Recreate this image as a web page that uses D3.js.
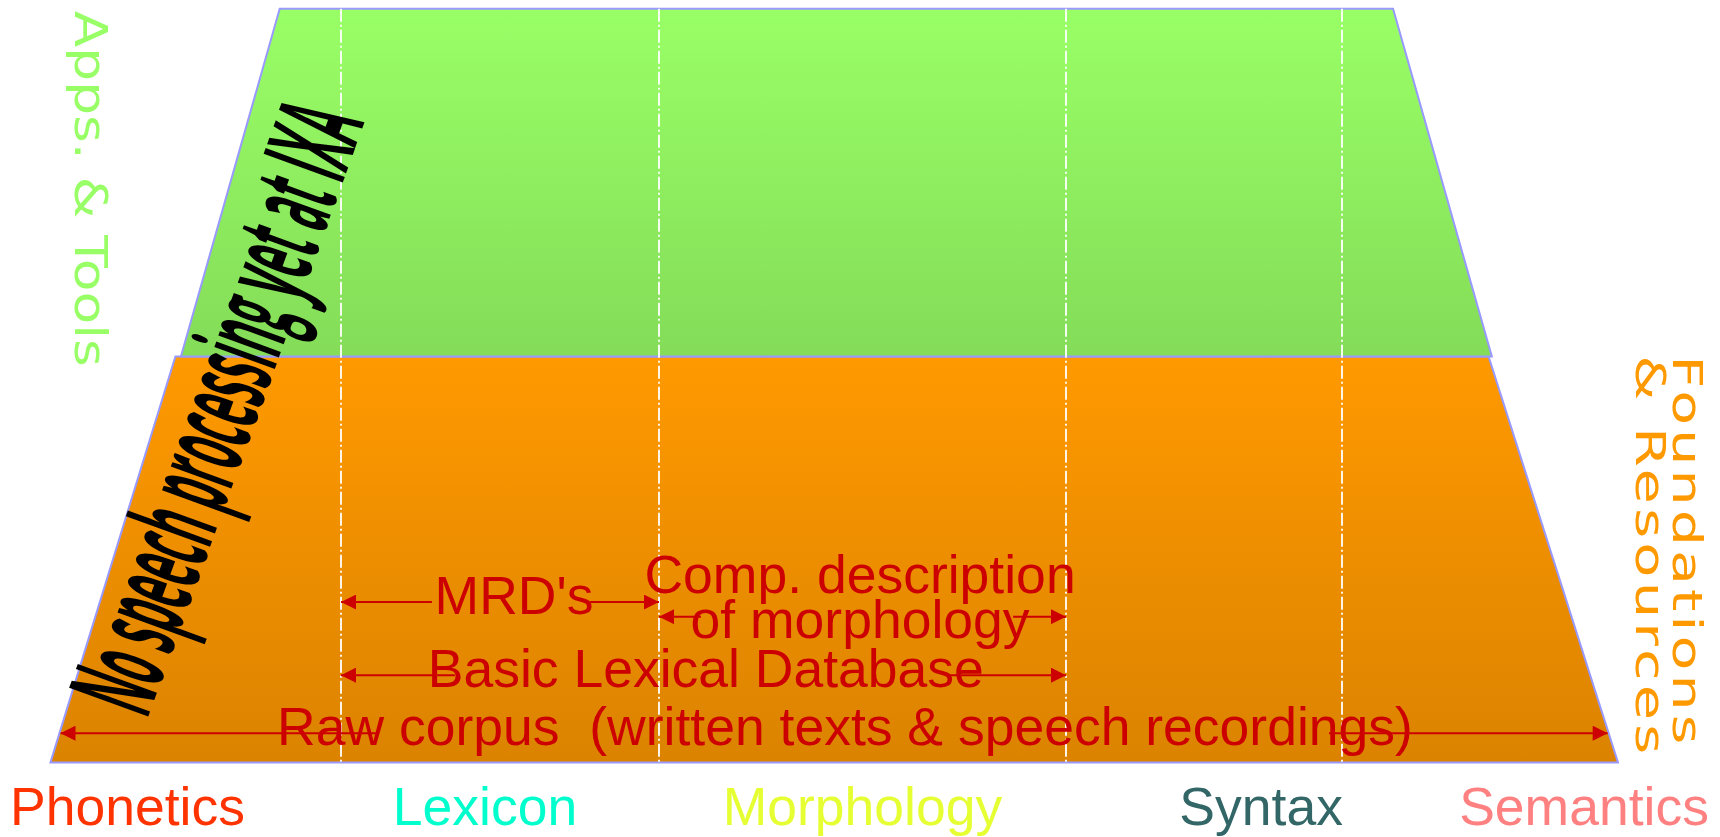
<!DOCTYPE html>
<html>
<head>
<meta charset="utf-8">
<script src="https://cdn.jsdelivr.net/npm/d3@7"></script>
<style>
  html, body { margin: 0; padding: 0; background: #ffffff; overflow: hidden; }
  svg { display: block; }
  text { white-space: pre; }
</style>
</head>
<body>
<svg id="chart" width="1720" height="837"></svg>
<script>
// ---------- data ----------
const categories = ["Phonetics", "Lexicon", "Morphology", "Syntax", "Semantics"];
const categoryColors = ["#ff3300", "#00ffcc", "#e5ff33", "#336666", "#ff8080"];
const categoryLabelPos = [0.265, 1.453, 2.5, 3.707, 4.877];   // in category units
const dividers = [1, 2, 3, 4];

const layerNames = ["Foundations & Resources", "Apps. & Tools"];
const layerLines = [["Foundations", "& Resources"], ["Apps. & Tools"]];
const layerColors = ["#ff9900", "#99ff66"];
const layerColorsDark = ["#db8300", "#84dc58"];
const layerBottomEdge = [[0, 5], [0.449, 4.543]];     // category units at layer bottom
const layerTopEdge = [[0.430, 4.531], [0.789, 4.185]];  // category units at layer top

const resources = [["MRD's"], ["Comp. description", "of morphology"], ["Basic Lexical Database"], ["Raw corpus  (written texts & speech recordings)"]];
const resourceFrom = [1, 2, 1, 0];
const resourceTo = [2, 3, 3, 5];
const resourceLevel = [0.395, 0.359, 0.215, 0.072];
const resourceGap = [[1.286, 1.783], [2.103, 2.870], [1.358, 2.708], [1.119, 3.953]];
const resourceLabelPos = [1.544, 2.494, 2.115, 2.457];

const note = "No speech processing yet at IXA";

// ---------- scales ----------
const svg = d3.select("#chart");
const x = d3.scaleLinear().domain([0, 1, 2, 3, 4, 5]).range([50.5, 341, 659, 1066, 1342, 1618]);
const y = d3.scaleLinear().domain([0, 1, 2]).range([762.4, 356.5, 8.8]);

// ---------- gradients ----------
const defs = svg.append("defs");
layerColors.forEach((c, i) => {
  const g = defs.append("linearGradient").attr("id", "lg" + i)
    .attr("x1", 0).attr("y1", 0).attr("x2", 0).attr("y2", 1);
  g.append("stop").attr("offset", "0%").attr("stop-color", c);
  g.append("stop").attr("offset", "100%").attr("stop-color", layerColorsDark[i]);
});
const mk = defs.append("marker").attr("id", "arrow")
  .attr("viewBox", "0 0 10 10").attr("refX", 10).attr("refY", 5)
  .attr("markerUnits", "userSpaceOnUse")
  .attr("markerWidth", 16).attr("markerHeight", 15).attr("orient", "auto");
mk.append("path").attr("d", "M0,0L10,5L0,10Z").attr("fill", "#cc0000");

// ---------- layers ----------
const layers = layerNames.map((n, i) => ({
  name: n, i,
  pts: [[x(layerBottomEdge[i][0]), y(i)], [x(layerTopEdge[i][0]), y(i + 1)],
        [x(layerTopEdge[i][1]), y(i + 1)], [x(layerBottomEdge[i][1]), y(i)]]
}));
svg.append("g").selectAll("path").data(layers).join("path")
  .attr("d", d => d3.line()(d.pts) + "Z")
  .attr("fill", d => "url(#lg" + d.i + ")")
  .attr("stroke", "#9999ff").attr("stroke-width", 2);

// ---------- dividers ----------
svg.append("g").selectAll("line").data(dividers).join("line")
  .attr("x1", d => x(d)).attr("x2", d => x(d))
  .attr("y1", y(2)).attr("y2", y(0))
  .attr("stroke", "#ffffff").attr("stroke-width", 1.8)
  .attr("stroke-dasharray", "13,3,2,3");

// ---------- resource arrows ----------
const base = layers[0].pts;
function leftEdge(yy) { const t = (y(0) - yy) / (y(0) - y(1)); return base[0][0] + t * (base[1][0] - base[0][0]); }
function rightEdge(yy) { const t = (y(0) - yy) / (y(0) - y(1)); return base[3][0] + t * (base[2][0] - base[3][0]); }

const rg = svg.append("g");
resources.forEach((lines, i) => {
  const yy = y(resourceLevel[i]);
  const x0 = Math.max(x(resourceFrom[i]), leftEdge(yy) + 1);
  const x1 = Math.min(x(resourceTo[i]), rightEdge(yy) - 1);
  rg.append("line").attr("x1", x(resourceGap[i][0])).attr("x2", x0)
    .attr("y1", yy).attr("y2", yy)
    .attr("stroke", "#cc0000").attr("stroke-width", 2).attr("marker-end", "url(#arrow)");
  rg.append("line").attr("x1", x(resourceGap[i][1])).attr("x2", x1)
    .attr("y1", yy).attr("y2", yy)
    .attr("stroke", "#cc0000").attr("stroke-width", 2).attr("marker-end", "url(#arrow)");
  const t = rg.append("text").attr("x", x(resourceLabelPos[i]))
    .attr("text-anchor", "middle")
    .attr("font-family", "'Liberation Sans', Arial, sans-serif")
    .attr("font-size", 53.5).attr("fill", "#cc0000");
  if (lines.length === 1) {
    t.attr("y", yy + 12).text(lines[0]);
  } else {
    t.append("tspan").attr("x", x(resourceLabelPos[i])).attr("y", yy - 24).text(lines[0]);
    t.append("tspan").attr("x", x(resourceLabelPos[i])).attr("y", yy + 21).text(lines[1]);
  }
});

// ---------- category labels ----------
svg.append("g").selectAll("text").data(categories).join("text")
  .attr("x", (d, i) => x(categoryLabelPos[i])).attr("y", 825)
  .attr("text-anchor", "middle")
  .attr("font-family", "'Liberation Sans', Arial, sans-serif")
  .attr("font-size", 53.5)
  .attr("fill", (d, i) => categoryColors[i])
  .text(d => d);

// ---------- layer labels (vertical) ----------
svg.append("text")
  .attr("transform", `translate(74.6, ${y(2) + 2}) rotate(90)`)
  .attr("font-family", "'DejaVu Sans', Verdana, sans-serif")
  .attr("font-size", 44.5).attr("fill", layerColors[1])
  .attr("textLength", 356).attr("lengthAdjust", "spacingAndGlyphs")
  .text(layerLines[1][0]);
const fr = svg.append("g").attr("transform", `translate(1673, ${y(1) - 1}) rotate(90)`);
fr.append("text").attr("x", 0).attr("y", 0)
  .attr("font-family", "'DejaVu Sans', Verdana, sans-serif")
  .attr("font-size", 41).attr("letter-spacing", 3).attr("fill", layerColors[0])
  .attr("textLength", 393).attr("lengthAdjust", "spacingAndGlyphs")
  .text(layerLines[0][0]);
fr.append("text").attr("x", 0).attr("y", 37)
  .attr("font-family", "'DejaVu Sans', Verdana, sans-serif")
  .attr("font-size", 41).attr("letter-spacing", 3).attr("fill", layerColors[0])
  .attr("textLength", 403).attr("lengthAdjust", "spacingAndGlyphs")
  .text(layerLines[0][1]);

// ---------- note ----------
svg.append("text")
  .attr("transform", "translate(147,720) rotate(-70)")
  .attr("font-family", "'Open Sans', sans-serif")
  .attr("font-weight", "bold")
  .attr("font-size", 118).attr("fill", "#000000")
  .attr("textLength", 636).attr("lengthAdjust", "spacingAndGlyphs")
  .text(note);
</script>
</body>
</html>
